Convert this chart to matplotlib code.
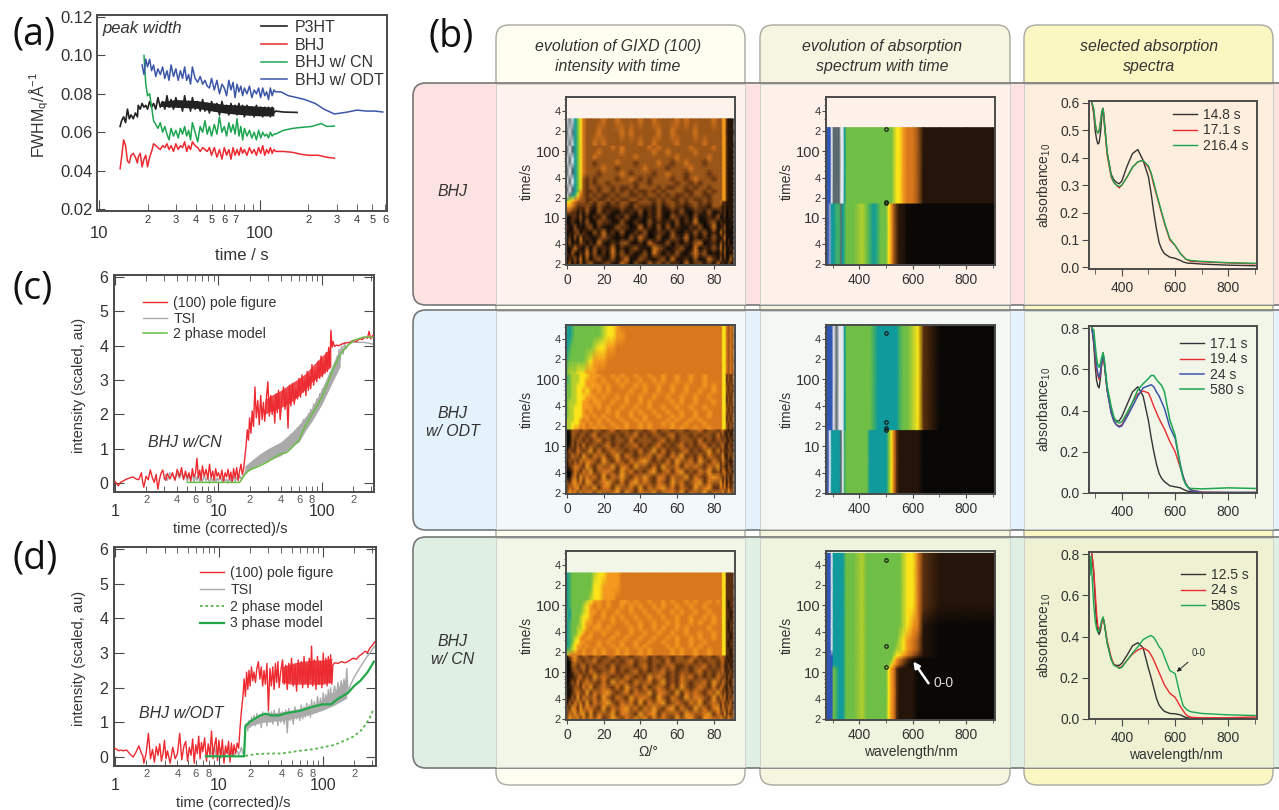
import numpy as np
import matplotlib
matplotlib.use('Agg')
import matplotlib.pyplot as plt
from matplotlib.colors import ListedColormap
from matplotlib.patches import FancyBboxPatch, Rectangle

plt.rcParams['font.family'] = ['Liberation Sans', 'DejaVu Sans']
plt.rcParams['mathtext.default'] = 'regular'
plt.rcParams['text.color'] = '#333333'
plt.rcParams['axes.labelcolor'] = '#333333'
plt.rcParams['xtick.labelcolor'] = '#333333'
plt.rcParams['ytick.labelcolor'] = '#333333'

W, H = 1279, 810

# ---- panel a, c, d time grids
t_early = [13.5, 13.8, 14.2, 14.6, 15, 15.4, 15.8, 16.3, 16.8, 17.3]
t_rise = [17.5, 18, 18.5, 19, 19.5, 20, 20.6, 21.2, 21.8, 22.5, 23.2, 24, 24.8, 25.6, 26.4,
          27.2, 28, 29, 30, 31, 32, 33, 34, 35, 36, 37, 38, 39.5, 41, 42.5,
          44, 45.5, 47, 48.5, 50, 52, 54, 56, 58, 60, 62, 64, 66, 68, 70,
          72, 74, 76, 78, 80, 83, 86, 89, 92, 95, 98, 101, 104, 107, 110,
          113, 116, 119, 122]
t_low = [1, 1.04, 1.08, 1.13, 1.2, 1.3, 1.4, 1.5, 1.6, 1.7, 1.8, 1.85, 1.9, 2, 2.1,
         2.2, 2.3, 2.4, 2.5, 2.6, 2.7, 2.8, 2.9, 3, 3.1, 3.2, 3.4, 3.6, 3.8, 4,
         4.2, 4.4, 4.6, 4.8, 5, 5.2, 5.4, 5.6, 5.8, 6, 6.2, 6.4, 6.6, 6.8, 7,
         7.3, 7.6, 7.9, 8.2, 8.5, 8.8, 9.1, 9.4, 9.7, 10, 10.4, 10.8, 11.2, 11.6, 12,
         12.4, 12.8, 13.2, 13.6, 14, 14.5, 15, 15.5, 16, 16.5, 17]

# panel a
p3ht_a = [.063, .066, .068, .065, .072, .067, .069, .067, .070, .068,
          .074, .072, .075, .073, .074, .072, .076, .073, .075, .072,
          .078, .073, .076, .072, .079, .073, .077, .072, .078, .073,
          .076, .071, .079, .073, .076, .071, .078, .072, .076, .071,
          .077, .071, .075, .070, .076, .071, .075, .069, .076, .071,
          .074, .069, .075, .070, .074, .069, .075, .070, .074, .068,
          .074, .069, .073, .068, .074, .069, .073, .068, .073, .069,
          .073, .068, .073, .070]
bhj_a = [.041, .047, .056, .053, .045, .044, .048, .049, .047, .044,
         .047, .049, .042, .046, .048, .042, .047, .050, .054, .053,
         .052, .051, .053, .052, .054, .051, .053, .050, .054, .051,
         .053, .052, .055, .050, .053, .051, .055, .053, .052, .050,
         .052, .051, .050, .052, .048, .052, .047, .051, .046, .052,
         .048, .051, .046, .052, .048, .051, .048, .052, .049, .051,
         .048, .052, .049, .051, .048, .052, .049, .053, .048, .051,
         .049, .052, .049, .051]
cn_a = [.100, .085, .079, .080, .073, .066, .064,
        .062, .065, .060, .063, .059, .056, .062, .058, .061, .057,
        .062, .059, .063, .058, .061, .056, .065, .060, .055, .063,
        .060, .066, .059, .063, .058, .064, .059, .068, .060, .063,
        .058, .065, .060, .064, .059, .067, .058, .063, .056, .062,
        .058, .061, .057, .060, .056, .061, .057, .060, .058, .059,
        .057, .060, .058, .059]
odt_a = [.095, .090, .098, .094, .098, .092, .095, .089,
         .093, .090, .094, .088, .092, .087, .095, .089, .093, .087,
         .092, .088, .094, .087, .090, .085, .094, .088, .086, .089,
         .085, .087, .084, .083, .088, .082, .087, .080, .085, .083,
         .079, .087, .082, .086, .078, .085, .081, .084, .079, .083,
         .080, .084, .078, .082, .080, .083, .078, .083, .079, .081,
         .077, .083, .079, .082]
p3ht_tail_t = [125, 140, 170]
p3ht_tail = [.071, .0705, .0703]
bhj_tail_t = [125, 140, 160, 180, 200, 230, 260, 290]
bhj_tail = [.050, .050, .0495, .0485, .048, .048, .047, .0465]
cn_tail_t = [125, 140, 160, 180, 210, 240, 260, 290]
cn_tail = [.059, .061, .062, .0625, .063, .0645, .063, .0632]
odt_tail_t = [125, 135, 150, 170, 190, 220, 250, 290, 320, 350, 400, 460, 520, 580]
odt_tail = [.081, .081, .079, .078, .077, .075, .072, .0695, .070, .0705, .0715, .071, .071, .0705]
p3ht_band_t = [24, 30, 40, 60, 80, 100, 122]
p3ht_band_lo = [.0735, .073, .0725, .0700, .069, .0685, .0685]
p3ht_band_hi = [.0760, .0770, .0765, .0745, .074, .0735, .0730]

# panel c
pole_c_low = [.05, -.02, -.08, .02, .06, .12, .15, .18, .12, .10,
              .30, .05, -.12, .20, .10, .38, .15, .02, .25, -.18,
              .12, .30, .38, .15, .08, .28, .12, .30, .08, .40,
              .18, .45, .10, .35, .15, .30, .05, .42, .18, .28,
              .72, .15, .38, .08, .50, .20, .40, .12, .55, .15,
              .35, .08, .42, .20, .30, .12, .38, .05, .30, .18,
              .40, .10, .32, .02, .42, .15, .45, .08, .35, .55, .25]
pole_c_up = [.40, .75, 1.10, 1.55, 1.25, 1.90, 1.45, 2.10, 1.65, 2.80,
             1.90, 2.40, 1.70, 2.55, 1.85, 2.35, 1.80, 2.45, 2.95, 1.95,
             2.55, 2.00, 2.40, 1.75, 2.60, 2.05, 2.70, 1.85, 2.45, 2.80,
             2.15, 2.65, 1.60, 2.85, 2.25, 2.90, 2.30, 2.75, 2.45, 3.05,
             2.50, 3.15, 2.65, 3.00, 2.55, 3.25, 2.70, 3.10, 2.75, 3.45,
             2.85, 3.30, 2.95, 3.55, 3.05, 3.70, 3.10, 3.55, 3.20, 3.80,
             3.25, 3.95, 3.35, 4.45]
pole_c_tail_t = [125, 128, 132, 138, 145, 155, 170, 185, 200, 215, 230, 245, 260, 275, 285, 295, 310, 320]
pole_c_tail = [3.95, 4.12, 3.98, 4.02, 4.0, 4.05, 4.08, 4.1, 4.15, 4.12, 4.2, 4.18, 4.25, 4.22, 4.42, 4.2, 4.3, 4.28]
pole_c_band_t = [28, 30, 40, 50, 60, 70, 80, 100, 122]
pole_c_band_lo = [2.0, 2.05, 2.2, 2.35, 2.55, 2.75, 2.95, 3.15, 3.4]
pole_c_band_hi = [2.4, 2.5, 2.7, 2.9, 3.05, 3.2, 3.4, 3.7, 3.95]
tsi_c_low = [.12, .25, .08, .30, .22, .10, .28, .14, .30, .12,
             .26, .05, .22, .10, .28, .03, .20, .08, .24, .02,
             .18, .05, .22, .06, .18, .00, .16, .04, .20, .02,
             .15, .06, .22, .03, .18, .05, .12, .00, .16, .04,
             .10, .20, .05, .16, .08, .22, .12, .18]
tsi_c_up = [.22, .30, .38, .34, .45, .40, .52, .45, .58, .50, .62, .55, .70, .60, .75,
            .62, .80, .70, .88, .72, .90, .78, 1.0, .82, 1.05, .88, 1.12, .92, 1.18, .98,
            1.25, 1.02, 1.30, 1.10, 1.42, 1.18, 1.50, 1.25, 1.62, 1.35, 1.70, 1.45, 1.85, 1.55, 1.90,
            1.70, 2.02, 1.80, 2.15, 1.90, 2.30, 2.05, 2.45, 2.20, 2.60, 2.35, 2.75, 2.50, 2.85, 2.60,
            3.0, 2.75, 3.2, 2.9]
tsi_c_tail_t = [125, 128, 131, 134, 137, 140, 143, 146, 150, 155, 160, 165, 170, 180, 200, 250, 310]
tsi_c_tail = [3.0, 3.3, 3.05, 3.5, 3.25, 3.7, 3.4, 3.9, 3.6, 4.0, 3.75, 4.1, 3.9, 4.05, 4.1, 4.1, 4.05]
tsi_c_band_t = [18, 25, 30, 40, 50, 60, 70, 80, 100, 120, 150]
tsi_c_band_lo = [.3, .55, .65, .8, 1.05, 1.2, 1.55, 1.8, 2.3, 2.8, 3.4]
tsi_c_band_hi = [.5, .85, 1.0, 1.2, 1.45, 1.7, 1.95, 2.2, 2.75, 3.3, 3.95]
model_c_t = [5, 16, 18, 20, 25, 30, 35, 40, 45, 50, 60, 66, 70, 80, 100, 120, 130, 150, 170, 200, 250, 310]
model_c = [.02, .02, .25, .38, .5, .62, .75, .85, .88, 1.0, 1.25, 1.55, 1.7, 2.0, 2.5, 3.1, 3.35, 3.75, 3.95, 4.15, 4.25, 4.25]

# panel d
pole_d_low = [.25, .22, .18, .20, .18, .20, .08, .0, .15, .32,
              .10, .05, -.18, .12, .68, -.05, .22, -.15, .30, .05,
              .38, -.12, .10, .48, -.05, .18, -.18, .28, -.05, .10,
              .68, -.08, .30, .45, -.12, .28, .05, .52, -.18, .35,
              .10, .60, -.05, .42, .15, .55, -.12, .38, .05, .75,
              -.05, .35, .55, -.10, .48, -.02, .50, -.18, .32, .10,
              .45, -.15, .40, .02, .35, .10, .40, .25, .85, 1.35, 1.7]
pole_d_up = [2.25, 1.75, 2.45, 1.95, 2.50, 2.05, 2.60, 2.20, 2.45, 2.15,
             2.55, 2.75, 2.25, 2.60, 2.05, 2.50, 2.10, 2.70, 1.35, 2.55,
             2.05, 2.60, 1.95, 2.70, 2.15, 2.75, 2.00, 2.50, 2.80, 2.10,
             2.65, 1.95, 2.70, 2.20, 2.85, 2.05, 2.65, 1.90, 2.80, 2.20,
             2.75, 2.00, 2.90, 2.15, 2.65, 2.00, 2.85, 2.25, 3.20, 2.05,
             2.80, 1.95, 2.90, 2.10, 2.75, 2.00, 3.00, 2.15, 2.85, 2.05,
             2.90, 2.15, 2.95, 2.10]
pole_d_tail_t = [125, 130, 140, 150, 165, 180, 195, 210, 225, 240, 255, 270, 285, 300, 315]
pole_d_tail = [2.65, 2.72, 2.7, 2.75, 2.72, 2.78, 2.85, 2.82, 2.92, 2.98, 3.05, 3.02, 3.15, 3.22, 3.32]
pole_d_band_t = [40, 50, 60, 80, 100, 122]
pole_d_band_lo = [2.15, 2.1, 2.1, 2.1, 2.1, 2.15]
pole_d_band_hi = [2.6, 2.7, 2.75, 2.8, 2.8, 2.85]
tsi_d_low = [.05, .22, .28, .08, .18, .32, .05, .20, .12, .24, .04, .18, .10,
             .22, .05, .16, .08, .20, .04, .14, .18, .06, .15, .28, .10]
tsi_d_up = [.15, .85, .95, .75, 1.05, .85, 1.15, .95, 1.2, .9, 1.25, .95, 1.2, .85, 1.3,
            1.0, 1.25, .9, 1.35, 1.0, 1.3, .95, 1.35, 1.05, 1.25, .9, 1.4, 1.0, 1.3, .95,
            1.35, .7, 1.4, 1.05, 1.3, .95, 1.45, 1.1, 1.35, 1.05, 1.5, 1.1, 1.45, 1.15, 1.55,
            1.2, 1.5, 1.15, 1.65, 1.25, 1.6, 1.3, 1.75, 1.35, 1.7, 1.4, 1.85, 1.45, 1.8, 1.5,
            1.95, 1.55, 2.0, 1.6]
tsi_d_tail_t = [125, 130, 135, 140, 145, 150, 155, 160, 165, 170, 175, 180, 200, 230, 260, 290, 315]
tsi_d_tail = [1.8, 2.05, 1.7, 2.15, 1.8, 2.2, 1.85, 2.25, 1.9, 2.55, 1.85, 2.0, 2.3, 2.6, 2.85, 3.05, 3.2]
tsi_d_band_t = [18.5, 25, 40, 60, 80, 100, 130, 170]
tsi_d_band_lo = [.85, 1.0, 1.05, 1.15, 1.25, 1.35, 1.5, 1.7]
tsi_d_band_hi = [1.0, 1.25, 1.3, 1.4, 1.5, 1.65, 1.9, 2.25]
model3_t = [7.5, 17.5, 18, 20, 22, 25, 28, 32, 38, 45, 60, 80, 100, 120, 140, 175, 200, 230, 270, 310]
model3 = [.02, .02, .9, 1.02, 1.1, 1.2, 1.25, 1.2, 1.2, 1.27, 1.33, 1.45, 1.52, 1.52, 1.68, 1.85, 2.05, 2.2, 2.45, 2.75]
model2_t = [18, 22, 30, 40, 60, 80, 100, 130, 170, 200, 240, 280, 310]
model2 = [.03, .08, .1, .1, .18, .22, .28, .35, .5, .6, .8, 1.1, 1.4]

# ---- selected absorption spectra
wl_sel = [288, 295, 300, 305, 310, 315, 320, 325, 330, 335, 345, 360, 370, 380, 390, 400, 420, 440, 460,
          480, 500, 510, 520, 530, 540, 550, 560, 580, 600, 620, 630, 640, 650, 660, 700, 800, 900]
bhj_148 = [.60, .56, .50, .47, .45, .455, .49, .55, .58, .53, .42, .34, .32, .31, .305, .315, .37, .415, .43,
           .39, .33, .27, .20, .14, .09, .065, .05, .037, .033, .025, .02, .017, .015, .015, .012, .008, .006]
bhj_171 = [.60, .57, .52, .50, .49, .50, .53, .57, .58, .52, .41, .33, .31, .30, .29, .30, .33, .365, .385,
           .39, .365, .34, .30, .265, .23, .195, .16, .10, .08, .05, .04, .03, .025, .022, .02, .016, .013]
bhj_2164 = [.60, .58, .53, .50, .49, .495, .53, .57, .58, .52, .42, .335, .31, .30, .295, .30, .33, .365, .385,
            .39, .37, .345, .31, .27, .235, .20, .165, .105, .08, .05, .04, .03, .027, .025, .022, .017, .015]
odt_171 = [.80, .72, .62, .55, .52, .51, .56, .63, .68, .62, .50, .40, .36, .35, .35, .37, .43, .49, .515,
           .47, .35, .27, .20, .14, .094, .07, .055, .035, .03, .025, .018, .012, .008, .006, .002, .002, .002]
odt_194 = [.80, .73, .66, .60, .57, .55, .58, .63, .67, .62, .50, .39, .35, .33, .325, .33, .38, .44, .48,
           .495, .485, .455, .42, .39, .36, .335, .31, .25, .20, .12, .08, .045, .025, .015, .004, .002, .002]
odt_24 = [.80, .74, .68, .62, .58, .56, .59, .64, .67, .63, .50, .39, .35, .33, .32, .325, .37, .42, .47,
          .51, .52, .525, .515, .49, .47, .44, .41, .32, .265, .135, .08, .045, .025, .012, .003, .003, .003]
odt_580 = [.80, .79, .72, .66, .62, .61, .63, .66, .68, .64, .52, .42, .37, .345, .34, .345, .39, .44, .50,
           .53, .555, .57, .57, .55, .535, .52, .49, .355, .28, .125, .07, .04, .025, .022, .02, .025, .022]
cn_125 = [.80, .70, .58, .47, .43, .41, .43, .47, .49, .46, .37, .29, .265, .26, .26, .27, .31, .355, .37,
          .345, .245, .20, .15, .10, .067, .05, .037, .027, .025, .02, .013, .008, .005, .004, .003, .003, .003]
cn_24 = [.80, .72, .62, .52, .45, .43, .44, .47, .49, .46, .38, .30, .265, .255, .25, .255, .285, .315, .335,
         .345, .33, .31, .285, .255, .225, .195, .165, .125, .105, .06, .04, .022, .013, .008, .006, .006, .01]
cn_580 = [.70, .55, .48, .44, .42, .43, .45, .48, .495, .46, .37, .29, .26, .255, .245, .25, .285, .32, .35,
          .385, .40, .405, .395, .375, .35, .335, .30, .235, .22, .11, .065, .05, .04, .035, .027, .02, .017]

# ---- GIXD maps: one hex digit per node, bottom row first
omega_nodes = [0, 1.5, 3, 4.5, 6, 7.5, 9, 11, 13, 15, 17.5, 20, 22.5, 25, 27.5, 30, 32.5, 35, 37.5, 40, 42.5, 45,
               47.5, 50, 52.5, 55, 57.5, 60, 62.5, 65, 67.5, 70, 72.5, 75, 77.5, 80, 82.5, 84, 85, 86, 87, 88, 89, 90.5]
gixd_time = [2, 2.4, 2.9, 3.5, 4.2, 5, 6, 7.2, 8.6, 10.3, 12.3, 14.7, 17.5, 18.5, 22, 25, 28, 33, 38, 46, 55, 67, 80, 97,
             118, 125, 190, 305]
gixd_time_odt = gixd_time + [450, 620]
gixd_bhj = [
    "1302 0312 4102 3014 2031 0423 1302 0412 3120 4021 0310",
    "0213 1403 0231 1302 4013 2102 3041 1203 0142 1302 1041",
    "2031 0214 1302 0413 1201 3042 0213 1024 2301 0213 0102",
    "1024 2103 0312 1402 0231 1043 2012 3104 0213 1403 1020",
    "0301 1320 2041 0213 3102 0421 1302 0213 4012 0312 0201",
    "1203 0412 1023 2101 0314 2013 0132 1402 0213 1024 0110",
    "0112 3021 0314 1203 0121 3012 2031 0213 1302 0412 1001",
    "2013 1102 3021 0132 2014 1203 0312 1021 3014 0123 0110",
    "0121 0213 1032 2103 1021 0312 1203 0214 1023 0211 1011",
    "1022 1302 0213 1021 3102 0213 1032 1203 0121 3012 0111",
    "3322 1213 1031 2102 1213 0213 1021 3102 2130 1212 0111",
    "5543 2223 2132 1223 2132 2213 1232 2123 2213 3212 1111",
    "6654 3332 3233 2323 3223 3323 2332 3233 2323 3422 1111",
    "9765 4332 2322 3232 2332 3223 2322 3232 2323 3355 2111",
    "efa9 6432 3232 2323 3223 2332 3232 2323 3223 3355 2111",
    "fefa 8532 2323 3232 3232 2323 2333 3223 3232 3355 2111",
    "fefa 8632 3323 3232 2323 3332 3223 3232 3323 3355 2111",
    "efea 8632 3233 2333 3323 3233 3332 3323 2333 3355 2111",
    "efea 8632 3233 3323 3432 3233 3323 3234 3332 3355 2111",
    "fefa 8643 3323 3334 3233 3323 3433 3233 3323 3355 2111",
    "fefa 8643 3334 3323 3333 4333 3233 3343 3333 3355 2111",
    "efea 8643 3233 3343 3323 3334 3323 3433 3233 3355 2111",
    "efea 8643 3433 3333 3343 3333 3334 3333 3343 3355 2111",
    "fefa 8643 3343 3334 3333 3343 3433 3334 3333 3355 2111",
    "fefa 8643 3333 3434 3333 3434 3333 3343 3334 3355 2111",
    "efea 8643 3434 3333 3334 3343 3334 3333 3433 3355 2111",
    "fefa 8643 3343 3334 3433 3334 3343 3334 3333 3355 2111",
    "efea 8643 3334 3343 3334 3343 3334 3433 3334 3355 2111",
]
gixd_odt = [
    "3544 2534 4253 3452 5324 4352 3443 5243 3524 4352 3542",
    "2434 5243 3524 4253 3425 2434 5342 4325 3452 2434 2423",
    "3245 3425 4234 5324 2453 4324 3253 4234 5243 3524 1322",
    "0034 2534 3425 2435 3243 5324 4243 3524 3245 4323 2313",
    "0024 3243 5234 4325 3423 2452 3424 5232 4352 3244 2231",
    "1234 4325 3243 3524 4253 3242 5334 2434 3243 5232 1322",
    "1323 2434 4325 3243 2434 5323 2425 3342 5324 3243 2212",
    "2243 3253 2434 2352 4323 3424 3243 5232 4243 2352 1323",
    "1322 4323 5242 3433 2324 2352 4232 3423 2352 4232 2231",
    "0132 3242 3323 4232 3342 3234 2323 4232 3423 2342 1322",
    "0032 3323 2342 3233 2423 3323 4232 3332 4232 3323 2131",
    "0033 2332 3423 3232 3342 3233 2342 3323 2332 4232 1312",
    "0133 3233 2332 3423 3233 2342 3323 3233 4233 2342 2121",
    "7765 5454 4545 4454 5445 4544 4454 5445 4454 4466 3232",
    "7766 6554 5454 4544 5445 4544 5454 4544 4544 4466 3232",
    "7776 6545 4454 5445 4454 5444 4545 4454 5444 4466 2323",
    "8776 6655 4545 4454 4544 5445 4454 5445 4454 4466 2323",
    "8776 6654 5444 5454 4545 4454 4544 5445 4454 4466 3232",
    "8776 6655 5454 5445 4454 4544 5445 4454 4544 4466 3232",
    "8777 6655 4554 4544 5445 4544 4454 5445 4445 4466 2323",
    "8877 6665 5545 4454 5445 4454 4544 5445 4454 4466 2323",
    "8877 6656 5454 5444 4544 5445 4454 4544 5445 4466 3232",
    "8877 6665 5554 5445 4454 5445 4454 4544 4545 4466 3232",
    "9877 7665 5545 4454 5445 4454 5445 4454 4544 4466 2323",
    "9877 7666 5554 4545 4454 4544 5445 4454 4544 4466 2323",
    "8777 6665 5544 4444 4444 4444 4444 4444 4444 4466 4343",
    "9888 8887 6555 4444 4444 4444 4444 4444 4444 4466 4343",
    "a988 8888 8766 5544 4444 4444 4444 4444 4444 4466 4343",
    "aa98 8888 8887 6655 4444 4444 4444 4444 4444 4466 4343",
    "9a98 8888 8887 6654 4444 4444 4444 4444 4444 4466 4343",
]
gixd_cn = [
    "3543 5243 4352 3542 4353 5243 4325 3453 2544 3542 3542",
    "2435 3452 5243 3524 4325 3452 4334 2543 3452 4325 2323",
    "3254 2534 4325 2434 5342 4353 2452 4325 3424 5243 2432",
    "1324 3425 2434 5324 3425 2434 5234 3243 5234 3242 3241",
    "1132 5243 3425 3243 2534 4325 3243 2534 4325 2434 1323",
    "1023 4325 2434 5323 4243 3524 4325 2434 3243 5323 2231",
    "1123 3243 5234 3242 5332 4234 3242 5323 4324 2432 1322",
    "0132 4234 3324 2534 3243 3423 5232 4323 3425 3243 2213",
    "0112 3423 2534 3232 4323 2534 3232 4342 3232 4323 1322",
    "0023 3232 4323 3423 2342 3233 4232 3323 4232 3342 2131",
    "0033 2342 3233 2423 3323 4232 3342 2323 3423 2332 1312",
    "0034 3323 3423 3232 3423 3233 2423 3342 3233 2342 2121",
    "0345 3233 2332 3423 3233 4232 3323 3234 2332 3433 1212",
    "7544 4454 4545 4454 5445 4544 4454 5445 4454 4466 2212",
    "9876 5454 4545 4454 5445 4544 4454 5445 4454 4466 2212",
    "a976 5545 4454 4545 4454 5444 4545 4454 5444 4466 2122",
    "a986 6554 4454 5445 4454 4544 5445 4454 4544 4466 2122",
    "a987 6545 5444 4544 5445 4454 4545 4454 5445 4466 2212",
    "a988 7654 5445 4454 4544 5445 4454 4544 5445 4466 2212",
    "a988 7765 4554 5444 4545 4454 5445 4544 4454 4466 2122",
    "a988 8765 5454 4544 5445 4454 4545 4454 5445 4466 2122",
    "9a88 8766 5445 4545 4454 4544 5445 4454 4545 4466 2212",
    "9a88 8876 5545 4454 4544 5445 4454 5445 4454 4466 2212",
    "a988 8876 5454 5445 4545 4454 5445 4454 4544 4466 2122",
    "a988 8887 6554 5445 5454 4544 5454 4545 4454 5466 2122",
    "a988 8888 7665 5544 4444 4444 4444 4444 4444 4466 2222",
    "a988 8888 8665 5554 4444 4444 4444 4444 4444 4466 2222",
    "a988 8888 8766 5554 4444 4444 4444 4444 4444 4466 2222",
]

# ---- absorption maps
wl_nodes = [275, 282, 290, 297, 303, 315, 325, 332, 338, 345, 352, 380, 410, 428, 440, 455,
            470, 480, 500, 510, 520, 530, 540, 550, 565, 580, 600, 620, 640, 700, 800, 905]
abs_time_bhj = [2, 16.3, 16.8, 225]
abs_bhj = ["dcda a99f a988 789a 9886 5321 1000 0000",
           "dcda a99f a988 789a 9886 5321 1000 0000",
           "ccce fffe ea88 8888 8888 8766 5443 1111",
           "ccce fffe ea88 8888 8888 8766 5443 1111"]
abs_time_odt = [2, 17.5, 18, 620]
abs_odt = ["dcea aaaf e988 88aa aaa8 6421 1111 0000",
           "dcea aaaf e988 88aa aaa8 6421 1111 0000",
           "cccc efee ea88 8889 aaaa aaa9 8876 2000",
           "cccc efee ea88 8889 aaaa aaa9 8876 2000"]
abs_time_cn = [2, 11.5, 13, 16, 18, 22, 30, 50, 100, 300, 600]
abs_cn = ["cccc 89aa a988 7888 8886 5421 1110 0000",
          "cccc 89aa a988 7888 8886 5421 1110 0000",
          "cccc aaaa a988 7888 8888 6543 2100 0000",
          "cccc aaaa a988 7888 8888 8654 3210 0000",
          "cccc aaaa a988 7888 8888 8766 5432 1000",
          "ccce aaaa a988 7888 8888 8877 6543 1000",
          "ccce aaaa a988 7888 8888 8887 6543 1000",
          "ccce aaaa a988 7888 8888 8888 7654 1000",
          "ccce aaaa a988 7888 8888 8888 7664 2111",
          "ccce aaaa a988 7888 8888 8888 7664 2111",
          "ccce aaaa a988 7888 8888 8888 7664 2111"]
dots_bhj = [215, 17.5, 16.5]
dots_odt = [500, 23, 19, 17.5]
dots_cn = [480, 25, 12]

map_colors = ['#0a0806', '#24140a', '#5a2f10', '#9a5518', '#d9771c', '#f39a1e', '#fbe41a', '#b5cf2e',
              '#6fbe45', '#3fae6a', '#109a9c', '#1d7f9e', '#2f55b5', '#8f9fc8', '#e8e8ee', '#5a6a6e']
map_cmap = ListedColormap(map_colors)

RED = '#ec2a30'
GREEN = '#1ea552'
BLUE = '#3c56a8'
BLACK = '#222222'
GRAY = '#aaaaaa'
FRAME = '#4a4a4a'

fig = plt.figure(figsize=(W / 100, H / 100), dpi=100)
fig.patch.set_facecolor('white')


def px_axes(l, t, r, b):
    ax = fig.add_axes([l / W, 1 - b / H, (r - l) / W, (b - t) / H])
    ax.patch.set_alpha(0)
    for s in ax.spines.values():
        s.set_color(FRAME)
        s.set_linewidth(1.4)
    ax.tick_params(which='both', color=FRAME)
    return ax


def ftext(x, y, s, **kw):
    fig.text(x / W, 1 - y / H, s, **kw)


def cells(rows):
    return np.array([[int(c, 16) for c in r.replace(' ', '')] for r in rows])


def pos_legend(ax, box, x, y, **kw):
    l, t, r, b = box
    return ax.legend(loc='upper left', bbox_to_anchor=((x - l) / (r - l), (b - y) / (b - t)), frameon=False,
                     borderpad=0, borderaxespad=0, **kw)


# ---- background panels
bg = fig.add_axes([0, 0, 1, 1])
bg.set_xlim(0, W)
bg.set_ylim(H, 0)
bg.axis('off')
col_x = [(496, 745), (760, 1010), (1024, 1273)]
col_c = ['#fefef1', '#f5f5e0', '#fbf7c3']
row_y = [(83, 305), (310, 530), (537, 768)]
row_c = ['#fde2e2', '#e4f2fb', '#e0efe3']
over_c = [['#fef2ec', '#fef1e9', '#fdeedd'],
          ['#f3f9fb', '#f3f8f5', '#f1f6e9'],
          ['#f2f6e6', '#eff4df', '#eef2d3']]
for (a, b), c in zip(col_x, col_c):
    bg.add_patch(FancyBboxPatch((a, 25), b - a, 760, boxstyle='round,pad=0,rounding_size=13',
                                fc=c, ec='#a8a8a0', lw=1))
for (a, b), c in zip(row_y, row_c):
    bg.add_patch(FancyBboxPatch((413, a), 900, b - a, boxstyle='round,pad=0,rounding_size=13',
                                fc=c, ec='#777777', lw=1.2))
for i, (ya, yb) in enumerate(row_y):
    for j, (xa, xb) in enumerate(col_x):
        bg.add_patch(Rectangle((xa, ya + 1), xb - xa, yb - ya - 2, fc=over_c[i][j], ec='#c8ccc8', lw=0.6))

# ---- panel letters and headers
for x, y, s in [(12, 44, '(a)'), (428, 46, '(b)'), (12, 298, '(c)'), (12, 568, '(d)')]:
    ftext(x, y, s, fontsize=27, family='Open Sans', color='#111111', va='baseline')
for x, y, s in [(618, 47, 'evolution of GIXD (100)'), (618, 66, 'intensity with time'),
                (882, 47, 'evolution of absorption'), (882, 66, 'spectrum with time'),
                (1149, 47, 'selected absorption'), (1149, 66, 'spectra'),
                (453, 192, 'BHJ'), (453, 413, 'BHJ'), (453, 432, 'w/ ODT'),
                (453, 641, 'BHJ'), (453, 660, 'w/ CN')]:
    ftext(x, y, s, fontsize=11.4, style='italic', ha='center', va='center')

# ---- panel a
box_a = (97, 15, 387, 211)
ax = px_axes(*box_a)
ax.set_xscale('log')
ax.set_xlim(9.7, 616)
ax.set_ylim(0.019, 0.121)
t_a = t_early + t_rise
ax.fill_between(p3ht_band_t, p3ht_band_lo, p3ht_band_hi, color=BLACK, lw=0)
ax.plot(t_a + p3ht_tail_t, p3ht_a + p3ht_tail, color=BLACK, lw=1.2, label='P3HT')
ax.plot(t_a + bhj_tail_t, bhj_a + bhj_tail, color=RED, lw=1.1, label='BHJ')
ax.plot(t_a[-len(cn_a):] + cn_tail_t, cn_a + cn_tail, color=GREEN, lw=1.1, label='BHJ w/ CN')
ax.plot(t_a[-len(odt_a):] + odt_tail_t, odt_a + odt_tail, color=BLUE, lw=1.1, label='BHJ w/ ODT')
ax.set_yticks([.02, .04, .06, .08, .10, .12])
ax.set_yticklabels(['0.02', '0.04', '0.06', '0.08', '0.10', '0.12'], fontsize=12)
ax.tick_params(axis='y', direction='in', length=6, pad=3)
ax.set_xticks([10, 100])
ax.set_xticklabels(['10', '100'], fontsize=12)
ax.set_xticks([20, 30, 40, 50, 60, 70, 80, 90, 200, 300, 400, 500, 600], minor=True)
ax.set_xticklabels(['2', '3', '4', '5', '6', '7', '', '', '2', '3', '4', '5', '6'], minor=True, fontsize=8)
ax.tick_params(axis='x', which='major', direction='in', length=8, pad=11)
ax.tick_params(axis='x', which='minor', direction='in', length=5, pad=3)
ax.set_xlabel('time / s', fontsize=12)
ax.xaxis.set_label_coords(0.5, -0.19)
ax.set_ylabel('FWHM$_q$/Å$^{-1}$', fontsize=11.5)
ax.yaxis.set_label_coords(-0.16, 0.49)
ax.text(0.02, 0.93, 'peak width', transform=ax.transAxes, fontsize=12, style='italic', va='center')
pos_legend(ax, box_a, 261, 20, fontsize=11.5, handlelength=1.65, handletextpad=0.45, labelspacing=0.16)


# ---- panels c and d
def time_panel(box, ylo, yhi, xhi):
    ax = px_axes(*box)
    ax.set_xscale('log')
    ax.set_xlim(0.98, xhi)
    ax.set_ylim(ylo, yhi)
    ax.set_yticks([0, 1, 2, 3, 4, 5, 6])
    ax.tick_params(axis='y', which='major', direction='in', length=7, pad=4, labelsize=11.5, right=True)
    ax.set_xticks([1, 10, 100])
    ax.set_xticklabels(['1', '10', '100'], fontsize=11.5)
    ax.set_xticks([2, 3, 4, 5, 6, 7, 8, 9, 20, 30, 40, 50, 60, 70, 80, 90, 200, 300], minor=True)
    ax.set_xticklabels(['2', '', '4', '', '6', '', '8', '', '2', '', '4', '', '6', '', '8', '', '2', ''],
                       minor=True, fontsize=8, color='#555555')
    ax.tick_params(axis='x', which='major', direction='in', length=7, pad=9, top=True)
    ax.tick_params(axis='x', which='minor', direction='in', length=4, pad=2, top=True)
    ax.set_ylabel('intensity (scaled, au)', fontsize=10.5)
    ax.yaxis.set_label_coords(-0.107, 0.49)
    return ax


box_c = (114, 275, 374, 492)
ax = time_panel(box_c, -0.26, 6.06, 318)
ax.fill_between(tsi_c_band_t, tsi_c_band_lo, tsi_c_band_hi, color=GRAY, lw=0)
ax.plot(t_low[-len(tsi_c_low):] + t_rise + tsi_c_tail_t, tsi_c_low + tsi_c_up + tsi_c_tail, color=GRAY, lw=1, label='TSI', zorder=2)
ax.fill_between(pole_c_band_t, pole_c_band_lo, pole_c_band_hi, color=RED, lw=0, alpha=0.85, zorder=3)
ax.plot(t_low + t_rise + pole_c_tail_t, pole_c_low + pole_c_up + pole_c_tail, color=RED, lw=1, label='(100) pole figure', zorder=3)
ax.plot(model_c_t, model_c, color='#6abd45', lw=1.1, label='2 phase model', zorder=4)
ax.set_xlabel('time (corrected)/s', fontsize=10.5)
ax.xaxis.set_label_coords(0.446, -0.138)
h, l = ax.get_legend_handles_labels()
pos_legend(ax, box_c, 143, 296, handles=[h[1], h[0], h[2]], labels=[l[1], l[0], l[2]], fontsize=10.2,
           handlelength=1.7, handletextpad=0.45, labelspacing=0.12)
ftext(148, 442, 'BHJ w/CN', fontsize=11.5, style='italic', va='center')

box_d = (114, 547, 376, 766)
ax = time_panel(box_d, -0.26, 6.06, 325)
ax.fill_between(tsi_d_band_t, tsi_d_band_lo, tsi_d_band_hi, color=GRAY, lw=0)
ax.plot(t_low[-len(tsi_d_low):] + t_rise + tsi_d_tail_t, tsi_d_low + tsi_d_up + tsi_d_tail, color=GRAY, lw=1, label='TSI', zorder=2)
ax.fill_between(pole_d_band_t, pole_d_band_lo, pole_d_band_hi, color=RED, lw=0, alpha=0.85, zorder=3)
ax.plot(t_low + t_rise + pole_d_tail_t, pole_d_low + pole_d_up + pole_d_tail, color=RED, lw=1, label='(100) pole figure', zorder=3)
ax.plot(model2_t, model2, color='#55b548', lw=1.3, ls=(0, (1.5, 1.5)), label='2 phase model', zorder=4)
ax.plot(model3_t, model3, color='#22a84a', lw=1.6, label='3 phase model', zorder=4)
ax.set_xlabel('time (corrected)/s', fontsize=10.5)
ax.xaxis.set_label_coords(0.454, -0.137)
h, l = ax.get_legend_handles_labels()
pos_legend(ax, box_d, 200, 566, handles=[h[1], h[0], h[2], h[3]], labels=[l[1], l[0], l[2], l[3]], fontsize=10.2,
           handlelength=1.7, handletextpad=0.45, labelspacing=0.2)
ftext(139, 713, 'BHJ w/ODT', fontsize=11.5, style='italic', va='center')


# ---- map panels
def map_axes(box, x, t, rows, xlim):
    ax = px_axes(*box)
    ax.pcolormesh(x, t, cells(rows), cmap=map_cmap, vmin=-0.5, vmax=15.5, shading='gouraud', rasterized=True)
    ax.set_yscale('log')
    ax.set_xlim(*xlim)
    ax.set_ylim(1.95, 650)
    ax.set_yticks([2, 4, 10, 20, 40, 100, 200, 400])
    ax.set_yticklabels(['2', '4', '10', '2', '4', '100', '2', '4'])
    for lab in ax.get_yticklabels():
        lab.set_fontsize(10.5 if len(lab.get_text()) > 1 else 8)
    ax.set_yticks([3, 5, 6, 7, 8, 9, 30, 50, 60, 70, 80, 90, 300, 500, 600], minor=True)
    ax.set_yticklabels([], minor=True)
    ax.tick_params(axis='y', which='major', direction='out', length=3, pad=1)
    ax.tick_params(axis='y', which='minor', direction='out', length=1.5)
    ax.tick_params(axis='x', which='major', direction='out', length=3, pad=2.5, labelsize=10)
    ax.tick_params(axis='x', which='minor', direction='out', length=2)
    ax.set_ylabel('time/s', fontsize=10)
    ax.yaxis.set_label_coords(-0.193, 0.5)
    return ax


map_boxes = [(97, 265), (325, 494), (551, 720)]
for (top, bottom), rows, t in zip(map_boxes, [gixd_bhj, gixd_odt, gixd_cn], [gixd_time, gixd_time_odt, gixd_time]):
    ax = map_axes((566, top, 735, bottom), omega_nodes, t, rows, (-0.5, 91.5))
    ax.set_xticks([0, 20, 40, 60, 80])
last_gixd = ax
last_gixd.set_xlabel('Ω/°', fontsize=10)
last_gixd.xaxis.set_label_coords(0.49, -0.15)

for (top, bottom), rows, t, dots in zip(map_boxes, [abs_bhj, abs_odt, abs_cn], [abs_time_bhj, abs_time_odt, abs_time_cn],
                                        [dots_bhj, dots_odt, dots_cn]):
    ax = map_axes((826, top, 995, bottom), wl_nodes, t, rows, (275, 908))
    ax.set_xticks([400, 600, 800])
    ax.set_xticks([300, 500, 700, 900], minor=True)
    ax.plot([500] * len(dots), dots, ls='none', marker='o', ms=2.5, mfc='none', mec='#111111', mew=0.8)
last_abs = ax
last_abs.set_xlabel('wavelength/nm', fontsize=10)
last_abs.xaxis.set_label_coords(0.5, -0.15)
last_abs.annotate('', xy=(602, 14.6), xytext=(659, 6.9),
                  arrowprops=dict(arrowstyle='-|>', color='white', lw=1.8, mutation_scale=9, shrinkA=0, shrinkB=0))
last_abs.text(715, 7, '0-0', color='#dddddd', fontsize=10, ha='center', va='center')


# ---- selected spectra
def spectrum_axes(box, ylim, yticks, ylabels):
    ax = px_axes(*box)
    ax.set_xlim(277, 907)
    ax.set_ylim(*ylim)
    ax.set_xticks([400, 600, 800])
    ax.set_xticks([300, 500, 700, 900], minor=True)
    ax.set_yticks(yticks)
    ax.set_yticklabels(ylabels)
    ax.tick_params(axis='both', which='major', direction='out', length=5, pad=2, labelsize=10)
    ax.tick_params(axis='x', which='major', pad=4)
    ax.tick_params(axis='x', which='minor', direction='out', length=3.5)
    ax.set_ylabel('absorbance$_{10}$', fontsize=10)
    ax.yaxis.set_label_coords(-0.215, 0.5)
    return ax


box_s1 = (1089, 101, 1257, 269)
ax = spectrum_axes(box_s1, (-0.006, 0.607), [0, .1, .2, .3, .4, .5, .6], ['0.0', '0.1', '0.2', '0.3', '0.4', '0.5', '0.6'])
ax.plot(wl_sel, bhj_148, color='#333333', lw=1, label='14.8 s')
ax.plot(wl_sel, bhj_171, color=RED, lw=1, label='17.1 s')
ax.plot(wl_sel, bhj_2164, color=GREEN, lw=1, label='216.4 s')
pos_legend(ax, box_s1, 1173, 108, fontsize=10, handlelength=1.7, handletextpad=0.45, labelspacing=0.1)

box_s2 = (1089, 326, 1257, 493)
ax = spectrum_axes(box_s2, (0, 0.81), [0, .2, .4, .6, .8], ['0.0', '0.2', '0.4', '0.6', '0.8'])
ax.plot(wl_sel, odt_171, color='#333333', lw=1, label='17.1 s')
ax.plot(wl_sel, odt_194, color=RED, lw=1, label='19.4 s')
ax.plot(wl_sel, odt_24, color=BLUE, lw=1.1, label='24 s')
ax.plot(wl_sel, odt_580, color=GREEN, lw=1.1, label='580 s')
pos_legend(ax, box_s2, 1180, 337, fontsize=10, handlelength=1.7, handletextpad=0.45, labelspacing=0.1)

box_s3 = (1089, 552, 1257, 719)
ax = spectrum_axes(box_s3, (0, 0.81), [0, .2, .4, .6, .8], ['0.0', '0.2', '0.4', '0.6', '0.8'])
ax.plot(wl_sel, cn_125, color='#333333', lw=1, label='12.5 s')
ax.plot(wl_sel, cn_24, color=RED, lw=1, label='24 s')
ax.plot([281, 284] + wl_sel, [.70, .79] + cn_580, color=GREEN, lw=1, label='580s')
pos_legend(ax, box_s3, 1181, 568, fontsize=10, handlelength=1.7, handletextpad=0.45, labelspacing=0.1)
ax.annotate('0-0', xy=(606, .229), xytext=(687, .318), fontsize=7, ha='center', va='center',
            arrowprops=dict(arrowstyle='-|>', color='#222222', lw=0.7, mutation_scale=6, shrinkA=1, shrinkB=0))
ax.set_xlabel('wavelength/nm', fontsize=10)
ax.xaxis.set_label_coords(0.52, -0.175)

fig.savefig('out.png', dpi=100)
